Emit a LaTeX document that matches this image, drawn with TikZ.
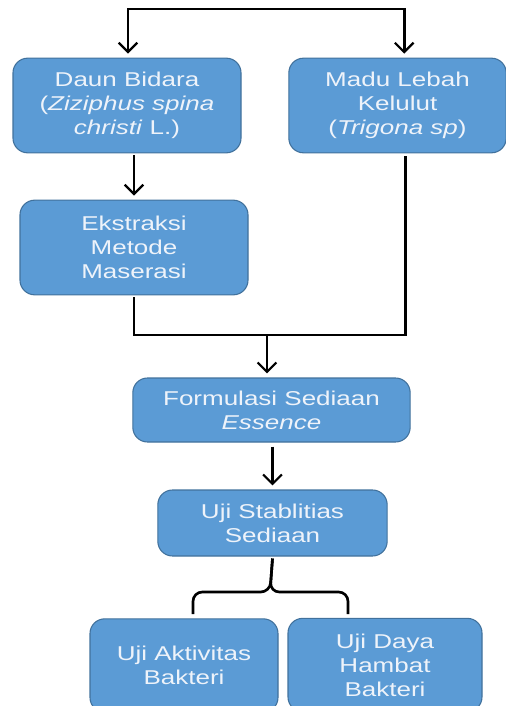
\documentclass[tikz,border=0pt]{standalone}
\usepackage{fontspec}
\setmainfont{Liberation Sans}[FakeStretch=1.3]
\usepackage{tikz}
\usetikzlibrary{arrows.meta}
\definecolor{kotak}{HTML}{5B9BD5}
\definecolor{garis}{HTML}{41719C}
\definecolor{teks}{HTML}{EEF3FA}

\begin{document}
\begin{tikzpicture}[x=0.75pt,y=-0.75pt,
    every node/.style={draw=garis,fill=kotak,text=teks,rounded corners=11pt,align=center,font=\fontsize{15}{18}\selectfont,line width=0.8pt},
    panah/.style={line width=2pt,-{Straight Barb[length=7pt,width=14pt,line width=1.7pt]},shorten >=3pt},
    sambung/.style={line width=2pt}]
          \clip (0,0) rectangle (506,706);
          \node[minimum width=171pt,minimum height=71pt] (daun) at (127,105.5) {Daun Bidara\\(\textit{Ziziphus spina}\\\textit{christi} L.)};
          \node[minimum width=163pt,minimum height=71pt] (madu) at (397.5,105.5) {Madu Lebah\\Kelulut\\(\textit{Trigona sp})};
          \node[minimum width=171pt,minimum height=71pt] (ekstraksi) at (134,247.5) {Ekstraksi\\Metode\\Maserasi};
          \node[minimum width=208pt,minimum height=48pt] (formulasi) at (271.5,410) {Formulasi Sediaan\\\textit{Essence}};
          \node[minimum width=172pt,minimum height=49.5pt] (uji) at (272.5,523) {Uji Stablitias\\Sediaan};
          \node[minimum width=141pt,minimum height=70pt] (aktivitas) at (184,665.5) {Uji Aktivitas\\Bakteri};
          \node[minimum width=145.5pt,minimum height=70pt] (hambat) at (385,665) {Uji Daya\\Hambat\\Bakteri};
          \coordinate (atas) at (266,9);
          \coordinate (gabung) at (267,335);
          \coordinate (kiri) at (193,614);
          \coordinate (kanan) at (348,614);
            \draw[panah] (atas) -| ([xshift=0.75pt]daun.north);
            \draw[panah] (atas) -| ([xshift=5pt]madu.north);
            \draw[panah] (ekstraksi.north |- daun.south) ++(0,2) -- (ekstraksi.north);
            \draw[sambung] (ekstraksi.south) ++(0,2) |- (gabung) -| ([xshift=6pt,yshift=-2pt]madu.south);
            \draw[panah] (gabung) -- (gabung |- formulasi.north);
            \draw[panah] (uji.north |- formulasi.south) ++(0,4) -- (uji.north);
            \draw[sambung,rounded corners=7pt] (uji.south) ++(0,2) -- (270,592) -| (kiri);
            \draw[sambung,rounded corners=7pt] (uji.south) ++(0,2) -- (270,592) -| (kanan);
        \end{tikzpicture}
\end{document}
